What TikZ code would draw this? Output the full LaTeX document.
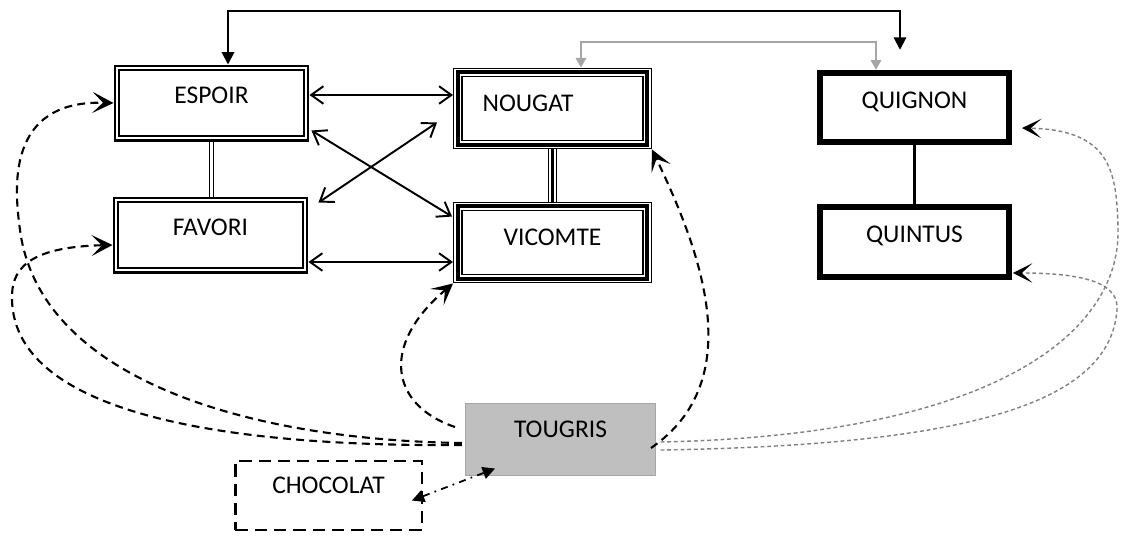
\documentclass[tikz,border=0pt]{standalone}
\usepackage{fontspec}
\setmainfont{Carlito}
\usepackage{tikz}
\usetikzlibrary{arrows.meta,calc}

\begin{document}
\begin{tikzpicture}[x=0.02cm, y=-0.02cm,
  lbl/.style={font=\fontsize{14.5}{17}\selectfont, inner sep=0pt},
  dbox/.style={lbl, draw, double, line width=1.3pt, double distance=1.1pt,
               outer sep=1.85pt, minimum width=3.79cm, minimum height=1.41cm,
               text height=0.4cm, text depth=0.37cm},
  tbox/.style={lbl, preaction={draw, line width=5.4pt},
               preaction={draw, white, line width=3.9pt},
               draw, line width=2.2pt, outer sep=2.7pt,
               minimum width=3.79cm, minimum height=1.45cm,
               text height=0.45cm, text depth=0.34cm},
  qbox/.style={lbl, draw, line width=3.4pt, minimum width=3.78cm,
               minimum height=1.39cm, text height=0.4cm, text depth=0.37cm},
  gbox/.style={lbl, draw=black!35, fill=black!25, line width=0.6pt,
               minimum width=3.8cm, minimum height=1.44cm,
               text height=0.35cm, text depth=0.44cm},
  cbox/.style={lbl, draw, line width=1.4pt, dash pattern=on 7pt off 4pt,
               outer sep=0.7pt, minimum width=3.73cm, minimum height=1.37cm,
               text height=0.35cm, text depth=0.44cm},
  dline/.style={double, line width=0.9pt, double distance=1.2pt},
  tline/.style={preaction={draw, line width=5.4pt},
                preaction={draw, white, line width=3.9pt}, line width=2.2pt},
  link/.style={line width=1.1pt,
               {Straight Barb[length=7pt,width=10pt]}-{Straight Barb[length=7pt,width=10pt]}},
  topline/.style={line width=1.1pt,
               {Triangle[length=7pt,width=7pt]}-{Triangle[length=7pt,width=7pt]}},
  greyline/.style={draw=black!35, line width=1pt,
               {Triangle[length=5.5pt,width=6pt]}-{Triangle[length=5.5pt,width=6pt]}},
  dflow/.style={line width=1.2pt, dash pattern=on 4.5pt off 3pt,
               -{Stealth[length=12pt,width=12pt,inset=6pt]}},
  gflow/.style={draw=black!50, line width=0.8pt, dash pattern=on 2.2pt off 1.6pt,
               -{Stealth[length=11pt,width=11pt,inset=6pt,color=black]}},
  choc/.style={line width=1pt, dash pattern=on 4pt off 3pt on 1pt off 3pt,
               {Triangle[length=7pt,width=7pt]}-{Triangle[length=7pt,width=7pt]}}
]
\useasboundingbox (0,0) rectangle (1123,535);
\node[dbox] (espoir) at (211.5,103) {ESPOIR};
\node[dbox] (favori) at (210.5,235) {FAVORI};
\node[tbox] (nougat) at (552.5,108.5) {NOUGAT\hspace*{0.98cm}};
\node[tbox] (vicomte) at (552.5,242.5) {VICOMTE};
\node[qbox] (quignon) at (914.5,107.5) {QUIGNON};
\node[qbox] (quintus) at (914.5,242) {QUINTUS};
\node[gbox] (tougris) at (560.5,439.5) {TOUGRIS};
\node[cbox] (chocolat) at (328.5,495.5) {CHOCOLAT};
% links between the boxes
\draw[dline] (espoir.south) -- (espoir.south |- favori.north);
\draw[tline] (nougat.south) -- (vicomte.north);
\draw[line width=1.3pt] (quignon.south) -- (quintus.north);
\draw[link] ($(espoir.east)+(0,-8)$) coordinate (en) -- (nougat.west |- en);
\draw[link] ($(favori.east)+(0,27)$) coordinate (fv) -- (vicomte.west |- fv);
\draw[link] ($(espoir.south east)+(2,-11)$) -- ($(vicomte.north west)+(-1,15)$);
\draw[link] ($(favori.north east)+(10,6)$) -- ($(nougat.south west)+(-16,-27)$);
% top connectors
\draw[topline] ($(espoir.north)+(16.5,0)$) |- ($(quignon.north)+(-14.5,-59)$)
  -- ($(quignon.north)+(-14.5,-20)$);
\draw[greyline] ($(nougat.north)+(28.5,0)$) |- ($(quignon.north)+(-38.5,-28)$)
  -- ($(quignon.north)+(-38.5,0)$);
% flows out of TOUGRIS
\draw[dflow] ($(tougris.west)+(-3,3.5)$) .. controls (250,440) and (40,380)
  .. (20,230) .. controls (14.6,190) and (5,100) .. (espoir.west);
\draw[dflow] ($(tougris.west)+(-3,5.5)$) .. controls (230,447) and (15,415)
  .. (12,300) .. controls (11,271) and (25,247) .. ($(favori.west)+(0,10)$);
\draw[dflow] ($(tougris.west)+(-10,-12.5)$) .. controls (390,405) and (380,345)
  .. (vicomte.south west);
\draw[dflow] ($(tougris.east)+(-5,8.5)$) .. controls (750,380) and (700,250)
  .. (nougat.south east);
\draw[gflow] ($(tougris.east)+(4.5,2.5)$) .. controls (1000,435) and (1120,330)
  .. (1118,230) .. controls (1117,170) and (1110,130) .. ($(quignon.east)+(10,20.5)$);
\draw[gflow] ($(tougris.east)+(4.5,10.5)$) .. controls (980,445) and (1110,400)
  .. (1117,310) .. controls (1119,285) and (1090,273) .. ($(quintus.east)+(1,31)$);
\draw[choc] ($(chocolat.east)+(-11,5)$) -- ($(tougris.south west)+(30,-7.5)$);
\end{tikzpicture}
\end{document}
